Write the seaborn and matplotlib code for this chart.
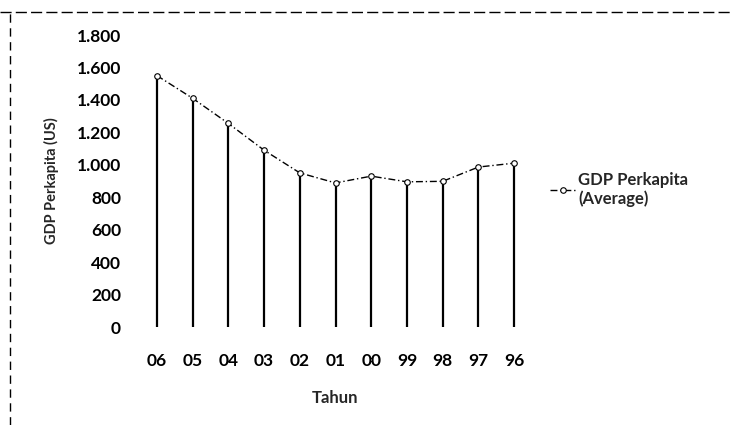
import matplotlib
matplotlib.use("Agg")
import matplotlib.pyplot as plt
import matplotlib.ticker as mticker
import seaborn as sns
import pandas as pd
import numpy as np

years = ["06", "05", "04", "03", "02", "01", "00", "99", "98", "97", "96"]
gdp = [1550, 1410, 1255, 1090, 950, 888, 930, 895, 898, 986, 1010]
series_name = "GDP Perkapita\n(Average)"

sns.set_theme(style="white")
plt.rcParams['font.family'] = ['Lato', 'DejaVu Sans']

df = pd.DataFrame({"Tahun": years, "GDP": gdp})

fig = plt.figure(figsize=(7.32, 4.25), dpi=100)
ax = fig.add_axes([139/732, 1-327/425, (532-139)/732, (327-35)/425])

x = np.arange(len(years))
ax.vlines(x, 0, df["GDP"], colors="black", linewidth=1.6, zorder=2)
sns.lineplot(data=df, x=x, y="GDP", ax=ax, color="black", linewidth=1.0,
             linestyle=(0, (5, 2, 1, 2)), marker="o", markersize=4,
             markerfacecolor="white", markeredgecolor="black", markeredgewidth=0.8,
             label=series_name, zorder=3)

ax.set_xlim(-0.5, len(years) - 0.5)
ax.set_ylim(0, 1800)
ax.set_yticks(np.arange(0, 1801, 200))
ax.yaxis.set_major_formatter(mticker.FuncFormatter(lambda v, p: f"{int(v):,}".replace(",", ".")))
ax.set_xticks(x)
ax.set_xticklabels(years)
for s in ax.spines.values():
    s.set_visible(False)
ax.tick_params(axis="both", length=0, labelsize=12.5, colors="black")
ax.tick_params(axis="x", pad=19)
ax.tick_params(axis="y", pad=13)
for t in ax.get_xticklabels() + ax.get_yticklabels():
    t.set_fontweight("bold")

ax.set_xlabel("Tahun", fontsize=12, fontweight="bold", labelpad=15)
ax.set_ylabel("GDP Perkapita (US)", fontsize=10.5, fontweight="bold", labelpad=13)

leg = ax.legend(loc="center left", bbox_to_anchor=(1.015, 0.47), frameon=False,
                fontsize=12, handlelength=1.6, handletextpad=0.1, borderpad=0.2)
for t in leg.get_texts():
    t.set_fontweight("bold")

# scanned page border
fig.add_artist(plt.Line2D([0.0, 1.0], [1-12/425, 1-12/425], color="black",
                          linewidth=1.0, linestyle=(0, (8, 3))))
fig.add_artist(plt.Line2D([10/732, 10/732], [0, 1-12/425], color="black",
                          linewidth=1.0, linestyle=(0, (6, 4))))

fig.savefig("out.png", dpi=100)
